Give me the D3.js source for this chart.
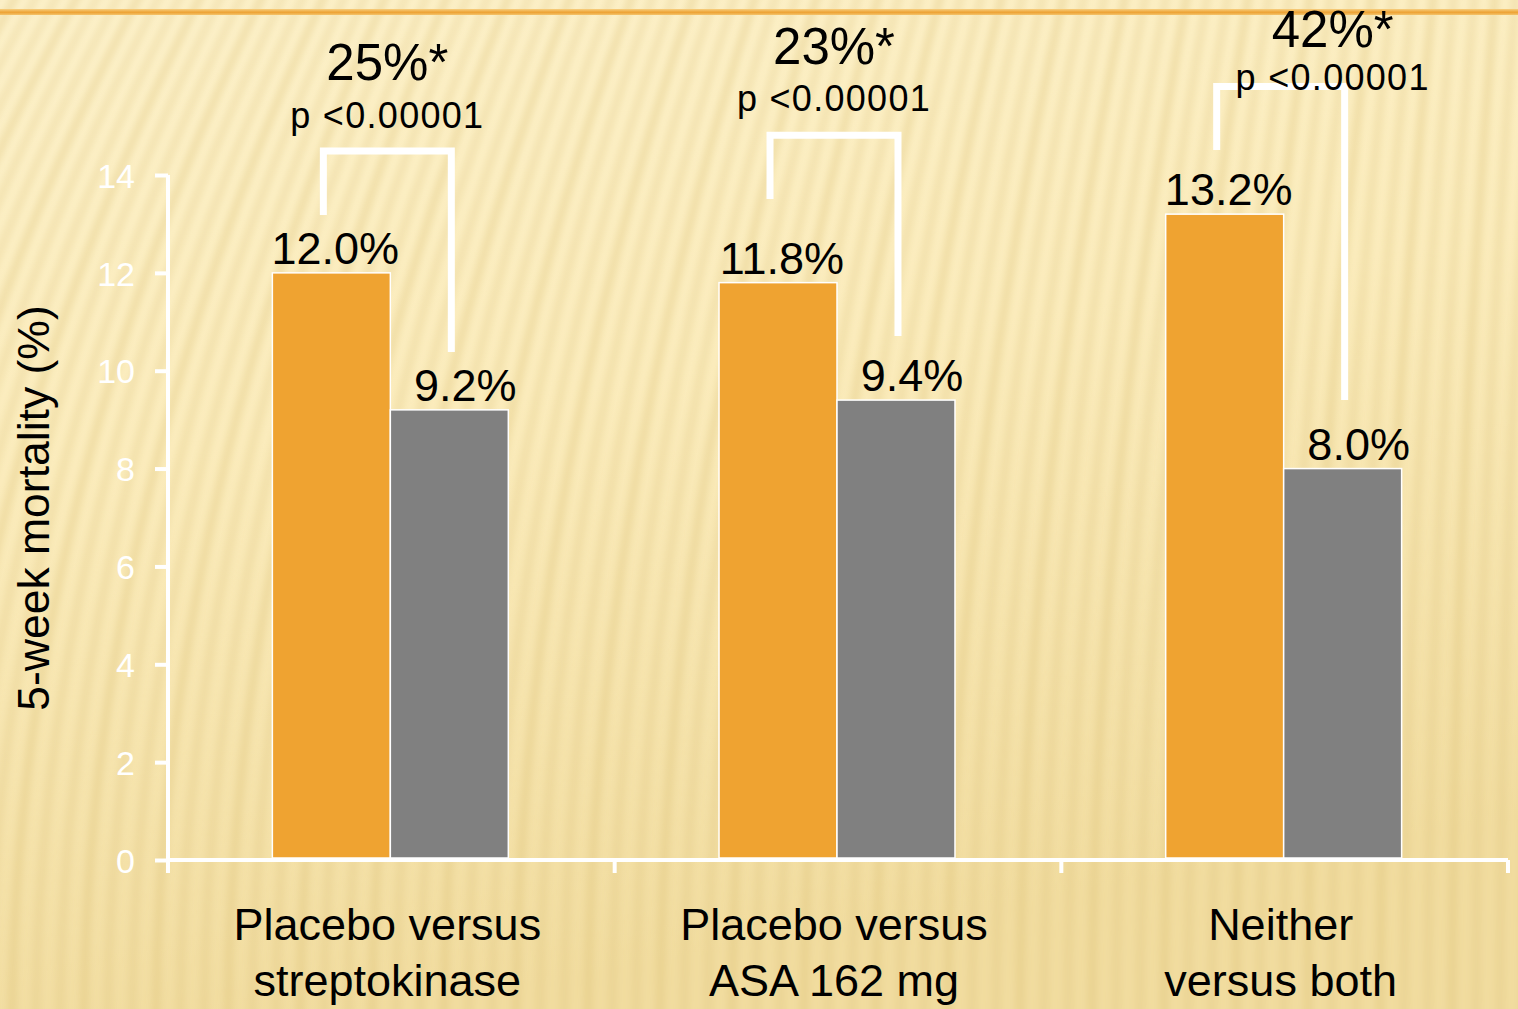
<!DOCTYPE html>
<html>
<head>
<meta charset="utf-8">
<script src="https://cdn.jsdelivr.net/npm/d3@7"></script>
<style>
  html, body { margin: 0; padding: 0; background: #fbefc6; }
  svg { display: block; }
</style>
</head>
<body>
<div id="chart"></div>
<script>
// ---- data ----
const categoryLines = [
  ["Placebo versus", "streptokinase"],
  ["Placebo versus", "ASA 162 mg"],
  ["Neither", "versus both"]
];
const seriesKeys = ["control", "treatment"];
const controlValues = [12.0, 11.8, 13.2];
const treatmentValues = [9.2, 9.4, 8.0];
const reductionLabels = ["25%*", "23%*", "42%*"];
const pValueLabels = ["p <0.00001", "p <0.00001", "p <0.00001"];
const yTicks = [0, 2, 4, 6, 8, 10, 12, 14];
const yTitle = "5-week mortality (%)";

// comparison brackets, heights in axis units
const bracketTop = [14.49, 14.81, 15.81];
const bracketLeftEnd = [13.18, 13.51, 14.51];
const bracketRightEnd = [10.38, 10.71, 9.40];
const reductionBaseline = [15.94, 16.27, 16.62];
const pValueBaseline = [14.96, 15.31, 15.74];
const annotationShift = [0, 0, 52];

// ---- layout ----
const W = 1518, H = 1009;
const margin = { left: 168, right: 10, top: 175, bottom: 149 };
const orange = "#EFA331", grey = "#808080";
const sans = "'Liberation Sans', Arial, sans-serif";

const svg = d3.select("#chart").append("svg")
  .attr("width", W).attr("height", H);

// ---- background ----
const defs = svg.append("defs");
const bg = defs.append("linearGradient").attr("id", "bg")
  .attr("x1", 0).attr("y1", 0).attr("x2", 0.25).attr("y2", 1);
bg.append("stop").attr("offset", "0%").attr("stop-color", "#fdf2cb");
bg.append("stop").attr("offset", "45%").attr("stop-color", "#fbecbc");
bg.append("stop").attr("offset", "100%").attr("stop-color", "#f1dc9f");
defs.append("filter").attr("id", "soft")
  .attr("x", "-10%").attr("y", "-10%").attr("width", "120%").attr("height", "120%")
  .append("feGaussianBlur").attr("stdDeviation", 3.5);
const rule = defs.append("linearGradient").attr("id", "rule")
  .attr("x1", 0).attr("y1", 0).attr("x2", 0).attr("y2", 1);
rule.append("stop").attr("offset", "0%").attr("stop-color", "#f7cf7f");
rule.append("stop").attr("offset", "55%").attr("stop-color", "#eda234");
rule.append("stop").attr("offset", "100%").attr("stop-color", "#f4c46c");

svg.append("rect").attr("width", W).attr("height", H).attr("fill", "url(#bg)");

// soft fanned stripes
const stripeBases = d3.range(-420, 1620, 24);
const stripes = svg.append("g").attr("filter", "url(#soft)");
stripes.selectAll("path").data(stripeBases).join("path")
  .attr("d", b => {
    const s = Math.max(20, 260 * (1 - b / 1750));
    return `M${b},${H + 20} Q${b},${H * 0.5} ${b + s},-20`;
  })
  .attr("fill", "none")
  .attr("stroke", "#d9bd74")
  .attr("stroke-opacity", (b, i) => 0.24 + 0.08 * (i % 3 === 0))
  .attr("stroke-width", 9);

// thin orange rule at the top
svg.append("rect").attr("x", 0).attr("y", 9).attr("width", W).attr("height", 6)
  .attr("fill", "url(#rule)");

// ---- scales ----
const x0 = d3.scaleBand()
  .domain(d3.range(categoryLines.length))
  .range([margin.left, W - margin.right]);
const x1 = d3.scaleBand()
  .domain(seriesKeys)
  .range([0, x0.bandwidth()])
  .paddingInner(0)
  .paddingOuter(0.893);
const y = d3.scaleLinear().domain([0, 14]).range([H - margin.bottom, margin.top]);

const rows = categoryLines.map((c, i) => ({
  i, control: controlValues[i], treatment: treatmentValues[i]
}));

// ---- bars ----
const groups = svg.append("g").selectAll("g").data(rows).join("g")
  .attr("transform", d => `translate(${x0(d.i) - 1},0)`);
groups.selectAll("rect").data(d => seriesKeys.map(k => ({ k, v: d[k] }))).join("rect")
  .attr("x", d => x1(d.k))
  .attr("y", d => y(d.v))
  .attr("width", x1.bandwidth())
  .attr("height", d => y(0) - 2 - y(d.v))
  .attr("fill", d => d.k === "control" ? orange : grey)
  .attr("stroke", "#ffffff")
  .attr("stroke-width", 1.5);

// value labels
groups.selectAll("text").data(d => seriesKeys.map(k => ({ k, v: d[k] }))).join("text")
  .attr("x", d => x1(d.k) + x1.bandwidth() / 2 + (d.k === "control" ? 4 : 16))
  .attr("y", d => y(d.v) - 9)
  .attr("text-anchor", "middle")
  .attr("font-family", sans)
  .attr("font-size", 45)
  .attr("fill", "#000")
  .text(d => d.v.toFixed(1) + "%");

// ---- axes ----
const yAxis = d3.axisLeft(y).tickValues(yTicks).tickSize(13).tickPadding(20).tickSizeOuter(0);
const gy = svg.append("g").attr("transform", `translate(${margin.left},0)`).call(yAxis);
gy.select(".domain").remove();
gy.selectAll(".tick line").attr("stroke", "#fff").attr("stroke-width", 4);
gy.selectAll(".tick text").attr("fill", "#fff").attr("font-family", sans)
  .attr("font-size", 34).attr("dy", "0.36em");
svg.append("line")
  .attr("x1", margin.left).attr("x2", margin.left)
  .attr("y1", y(14)).attr("y2", y(0) + 13)
  .attr("stroke", "#fff").attr("stroke-width", 4);

// x axis baseline with group separators
svg.append("line")
  .attr("x1", margin.left).attr("x2", W - margin.right)
  .attr("y1", y(0)).attr("y2", y(0))
  .attr("stroke", "#fff").attr("stroke-width", 4);
const bounds = x0.domain().map(i => x0(i)).concat([x0.range()[1]]);
svg.append("g").selectAll("line").data(bounds).join("line")
  .attr("x1", d => d).attr("x2", d => d)
  .attr("y1", y(0)).attr("y2", y(0) + 13)
  .attr("stroke", "#fff").attr("stroke-width", 4);

// category labels
const cat = svg.append("g").selectAll("text").data(rows).join("text")
  .attr("text-anchor", "middle")
  .attr("font-family", sans)
  .attr("font-size", 45)
  .attr("fill", "#000");
cat.selectAll("tspan").data(d => categoryLines[d.i].map(t => ({ t, i: d.i }))).join("tspan")
  .attr("x", d => x0(d.i) + x0.bandwidth() / 2 - 4)
  .attr("y", (d, j) => 940 + j * 56)
  .text(d => d.t);

// y title
svg.append("text")
  .attr("transform", `translate(49,${508}) rotate(-90)`)
  .attr("text-anchor", "middle")
  .attr("font-family", sans)
  .attr("font-size", 44.5)
  .attr("fill", "#000")
  .text(yTitle);

// ---- comparison brackets ----
const ann = svg.append("g");
rows.forEach(d => {
  const gx = x0(d.i) - 1;
  const xl = gx + x1("control") + x1.bandwidth() / 2 - 8;
  const xr = gx + x1("treatment") + x1.bandwidth() / 2 + 2;
  ann.append("path")
    .attr("d", `M${xl},${y(bracketLeftEnd[d.i])} V${y(bracketTop[d.i])} H${xr} V${y(bracketRightEnd[d.i])}`)
    .attr("fill", "none")
    .attr("stroke", "#fff")
    .attr("stroke-width", 7);
  const cx = (xl + xr) / 2 + annotationShift[d.i];
  ann.append("text")
    .attr("x", cx).attr("y", y(reductionBaseline[d.i]))
    .attr("text-anchor", "middle")
    .attr("font-family", sans).attr("font-size", 51).attr("fill", "#000")
    .text(reductionLabels[d.i]);
  ann.append("text")
    .attr("x", cx).attr("y", y(pValueBaseline[d.i]))
    .attr("text-anchor", "middle")
    .attr("font-family", sans).attr("font-size", 36).attr("letter-spacing", 1.3)
    .attr("fill", "#000")
    .text(pValueLabels[d.i]);
});
</script>
</body>
</html>
